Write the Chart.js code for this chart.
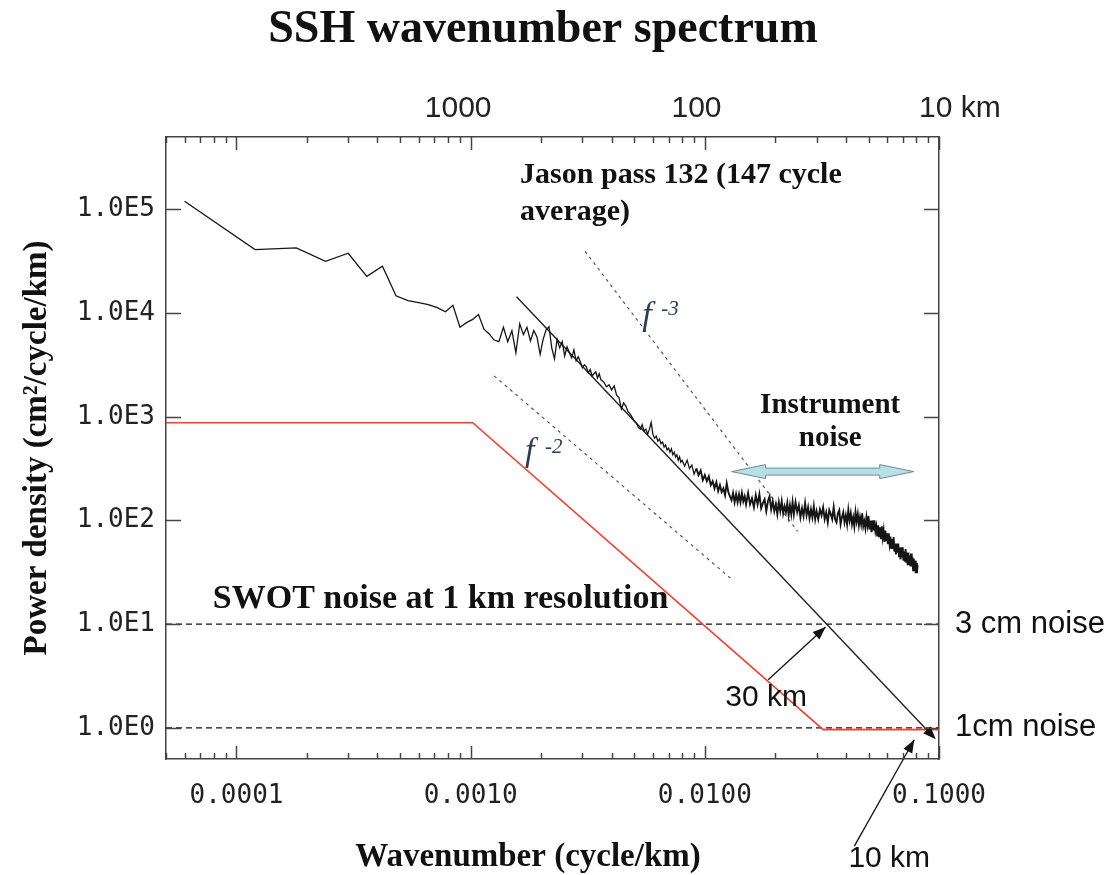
<!DOCTYPE html>
<html>
<head>
<meta charset="utf-8">
<title>SSH wavenumber spectrum</title>
<script src="https://cdn.jsdelivr.net/npm/chart.js@4.4.1/dist/chart.umd.min.js"></script>
<style>
  html, body { margin: 0; padding: 0; background: #fff; }
  #wrap { width: 1114px; height: 875px; }
</style>
</head>
<body>
<div id="wrap"><canvas id="chart" width="1114" height="875"></canvas></div>
<script>
// wavenumber (cycle/km) of the Jason pass 132 spectrum
const specK = [
  0.00006, 0.00012, 0.00018, 0.00024, 0.00030, 0.00036, 0.00042, 0.00048, 0.00054, 0.00060,
  0.00066, 0.00072, 0.00078, 0.00084, 0.00090, 0.00096, 0.00102, 0.00108, 0.00114, 0.00120,
  0.00126, 0.00132, 0.00138, 0.00144, 0.00150, 0.00156, 0.00162, 0.00168, 0.00174, 0.00180,
  0.00186, 0.00192, 0.00198, 0.00204, 0.00210, 0.00216, 0.00222, 0.00228, 0.00234, 0.00240,
  0.00246, 0.00252, 0.00258, 0.00264, 0.00270, 0.00276, 0.00282, 0.00288, 0.00294, 0.00300,
  0.00306, 0.00312, 0.00318, 0.00324, 0.00330, 0.00336, 0.00342, 0.00348, 0.00354, 0.00360,
  0.0037, 0.0038, 0.0039, 0.0040, 0.0041, 0.0042, 0.0043, 0.0044, 0.0045, 0.0046,
  0.0047, 0.0048, 0.0049, 0.0050, 0.0051, 0.0052, 0.0053, 0.0054, 0.0055, 0.0056,
  0.0057, 0.0058, 0.0059, 0.0060, 0.0061, 0.0062, 0.0063, 0.0064, 0.0065, 0.0066,
  0.0067, 0.0068, 0.0069, 0.0070, 0.0071, 0.0072, 0.0073, 0.0074, 0.0075, 0.0076,
  0.0077, 0.0078, 0.0079, 0.0080,
  0.0082, 0.0084, 0.0086, 0.0088, 0.0090, 0.0092, 0.0094, 0.0096, 0.0098, 0.0100,
  0.0102, 0.0104, 0.0106, 0.0108, 0.0110, 0.0112, 0.0114, 0.0116, 0.0118, 0.0120,
  0.0122, 0.0124, 0.0126, 0.0128, 0.0130, 0.0132, 0.0134, 0.0136, 0.0138, 0.0140,
  0.0142, 0.0144, 0.0146, 0.0148, 0.0150,
  0.0153, 0.0156, 0.0159, 0.0162, 0.0165, 0.0168, 0.0171, 0.0174, 0.0177, 0.0180,
  0.0183, 0.0186, 0.0189, 0.0192, 0.0195, 0.0198, 0.0201, 0.0204, 0.0207, 0.0210,
  0.0213, 0.0216, 0.0219, 0.0222, 0.0225, 0.0228, 0.0231, 0.0234, 0.0237,
  0.0240, 0.0244, 0.0248, 0.0252, 0.0256, 0.0260, 0.0264, 0.0268, 0.0272, 0.0276,
  0.0280, 0.0284, 0.0288, 0.0292, 0.0296, 0.0300,
  0.0305, 0.0310, 0.0315, 0.0320, 0.0325, 0.0330, 0.0335, 0.0340, 0.0345, 0.0350,
  0.0355, 0.0360, 0.0365, 0.0370, 0.0375, 0.0380, 0.0385, 0.0390, 0.0395, 0.0400,
  0.0405, 0.0410, 0.0415, 0.0420, 0.0425, 0.0430, 0.0435, 0.0440, 0.0445, 0.0450,
  0.0455, 0.0460, 0.0465, 0.0470, 0.0475, 0.0480, 0.0485, 0.0490, 0.0495, 0.0500,
  0.0505, 0.0510, 0.0515, 0.0520, 0.0525, 0.0530, 0.0535, 0.0540, 0.0545, 0.0550,
  0.0555, 0.0560, 0.0565, 0.0570, 0.0575, 0.0580, 0.0585, 0.0590, 0.0595, 0.0600,
  0.0605, 0.0610, 0.0615, 0.0620, 0.0625, 0.0630, 0.0635, 0.0640, 0.0645, 0.0650,
  0.0655, 0.0660, 0.0665, 0.0670, 0.0675, 0.0680, 0.0685, 0.0690, 0.0695, 0.0700,
  0.0705, 0.0710, 0.0715, 0.0720, 0.0725, 0.0730, 0.0735, 0.0740, 0.0745, 0.0750,
  0.0755, 0.0760, 0.0765, 0.0770, 0.0775, 0.0780, 0.0785, 0.0790, 0.0795, 0.0800,
  0.0805, 0.0810
];
// power density (cm2/cycle/km)
const specP = [
  120000, 41000, 42600, 31600, 37800, 22600, 28300, 14700, 13200, 12600,
  12100, 11300, 10300, 11900, 7300, 8100, 8700, 9700, 7000, 6300,
  5500, 5300, 7300, 5300, 6760, 4150, 7900, 6200, 7300, 5400,
  6800, 5900, 4000, 5600, 6900, 7400, 4620, 3620, 5600, 4620,
  5300, 3870, 4740, 4150, 3700, 4430, 3465, 3800, 3400, 2970,
  3180, 3040, 2650, 2860, 2480, 2600, 2720, 2370, 2600, 2270,
  2170, 1950, 2040, 1820, 1990, 1620, 1530, 1190, 1360, 1270,
  1120, 1060, 980, 910, 870, 790, 760, 840, 730, 760,
  680, 760, 880, 680, 620, 650, 583, 610, 550, 570,
  510, 535, 480, 500, 455, 490, 430, 455, 410, 430,
  380, 410, 365, 380,
  334, 382, 318, 343, 280, 318, 274, 304, 245, 274,
  239, 267, 219, 239, 204, 234, 192, 219, 188, 204,
  175, 228, 188, 171, 157, 184, 150, 179, 150, 179,
  150, 184, 153, 171, 143,
  184, 143, 164, 134, 175, 143, 179, 131, 147, 160,
  123, 153, 171, 128, 153, 123, 143, 115, 150, 123,
  153, 117, 137, 120, 147, 112, 140, 115, 150,
  115, 150, 120, 140, 107, 131, 110, 147, 112, 134,
  105, 128, 107, 137, 103, 123,
  103, 128, 112, 134, 103, 120, 96, 126, 115, 103,
  134, 103, 96, 117, 126, 92, 107, 120, 96, 112,
  92, 126, 100, 117, 92, 107, 88, 120, 98, 115,
  90, 107, 92, 117, 88, 98, 84, 107, 90, 110,
  82, 100, 77, 100, 80, 100, 79, 88, 70, 90,
  69, 86, 66, 88, 69, 80, 62, 80, 63, 75,
  59, 75, 60, 70, 53, 66, 53, 69, 50, 60,
  47, 60, 49, 60, 45, 55, 42, 55, 44, 55,
  41, 50, 40, 53, 40, 49, 37, 49, 38, 46,
  36, 48, 36, 44, 33, 43, 34, 41, 31, 39,
  31, 37
];

// straight reference lines
const fitK = [0.00157, 0.095];
const fitP = [14400, 0.81];
const slope3K = [0.00308, 0.0249];
const slope3P = [39500, 78.6];
const slope2K = [0.00126, 0.0129];
const slope2P = [2480, 27.6];
const swotK = [0.00005, 0.00102, 0.032, 0.1];
const swotP = [877, 877, 0.96, 0.96];
const noiseK = [0.00005, 0.1];
const noise3cmP = [10, 10];
const noise1cmP = [1, 1];

// axes
const X_MIN = 0.00005, X_MAX = 0.1, Y_MIN = 0.5, Y_MAX = 500000;
const xMajor = [0.0001, 0.001, 0.01, 0.1];
const xTickLabels = ['0.0001', '0.0010', '0.0100', '0.1000'];
const topMajor = [0.001, 0.01, 0.1];
const topTickLabels = ['1000', '100', '10 km'];
const yMajor = [1, 10, 100, 1000, 10000, 100000];
const yTickLabels = ['1.0E0', '1.0E1', '1.0E2', '1.0E3', '1.0E4', '1.0E5'];
const rightMajor = [10, 1];
const rightTickLabels = ['3 cm noise', '1cm noise'];

const SERIF = '"Liberation Serif", "Times New Roman", serif';
const SANS = '"Liberation Sans", Arial, sans-serif';
const MONO = '"DejaVu Sans Mono", "Liberation Mono", monospace';

function pts(xs, ys) {
  return xs.map((x, i) => ({ x: x, y: ys[i] }));
}

function logTicks(min, max, decadesOnly) {
  const out = [];
  for (let e = Math.floor(Math.log10(min)); e <= Math.ceil(Math.log10(max)); e++) {
    for (let m = 1; m <= 9; m++) {
      if (decadesOnly && m > 1) break;
      const v = m * Math.pow(10, e);
      if (v >= min * 0.999 && v <= max * 1.001) out.push({ value: v, major: m === 1 });
    }
  }
  return out;
}

function labelFor(v, values, labels) {
  for (let i = 0; i < values.length; i++) {
    if (Math.abs(Math.log10(v) - Math.log10(values[i])) < 1e-6) return labels[i];
  }
  return '';
}

// nudge the top labels like in the original figure
const topPadLeft = ['', '', '     '];
const topPadRight = ['   ', '  ', ''];

function arrowHead(ctx, x1, y1, x2, y2, len, half) {
  const a = Math.atan2(y2 - y1, x2 - x1);
  ctx.beginPath();
  ctx.moveTo(x2, y2);
  ctx.lineTo(x2 - len * Math.cos(a) + half * Math.sin(a), y2 - len * Math.sin(a) - half * Math.cos(a));
  ctx.lineTo(x2 - len * Math.cos(a) - half * Math.sin(a), y2 - len * Math.sin(a) + half * Math.cos(a));
  ctx.closePath();
  ctx.fill();
}

function arrow(ctx, x1, y1, x2, y2) {
  ctx.beginPath();
  ctx.moveTo(x1, y1);
  ctx.lineTo(x2, y2);
  ctx.stroke();
  arrowHead(ctx, x1, y1, x2, y2, 13, 5);
}

const annotate = {
  id: 'annotate',
  afterDatasetsDraw(chart) {
    const ctx = chart.ctx;
    const sx = chart.scales.x, sy = chart.scales.y;
    const X = k => sx.getPixelForValue(k);
    const Y = p => sy.getPixelForValue(p);
    ctx.save();

    // Instrument noise double arrow
    const x1 = X(0.013), x2 = X(0.078), yc = Y(296);
    const sh = 3.5, hl = 34, hh = 7;
    ctx.beginPath();
    ctx.moveTo(x1, yc);
    ctx.lineTo(x1 + hl, yc - hh);
    ctx.lineTo(x1 + hl, yc - sh);
    ctx.lineTo(x2 - hl, yc - sh);
    ctx.lineTo(x2 - hl, yc - hh);
    ctx.lineTo(x2, yc);
    ctx.lineTo(x2 - hl, yc + hh);
    ctx.lineTo(x2 - hl, yc + sh);
    ctx.lineTo(x1 + hl, yc + sh);
    ctx.lineTo(x1 + hl, yc + hh);
    ctx.closePath();
    ctx.fillStyle = '#b8dfe6';
    ctx.fill();
    ctx.strokeStyle = '#6d8c93';
    ctx.lineWidth = 1;
    ctx.stroke();

    // arrows
    ctx.strokeStyle = '#111';
    ctx.fillStyle = '#111';
    ctx.lineWidth = 1.3;
    arrow(ctx, X(0.01864), Y(2.91), X(0.0328), Y(9.4));
    arrow(ctx, X(0.0435), Y(0.0722), X(0.0784), Y(0.766));
    arrowHead(ctx, X(fitK[0]), Y(fitP[0]), X(fitK[1]) + 2, Y(fitP[1]) + 2, 13, 5);

    // bold serif notes
    ctx.fillStyle = '#111';
    ctx.textBaseline = 'alphabetic';
    ctx.textAlign = 'left';
    ctx.font = 'bold 30px ' + SERIF;
    const jx = X(0.001626), jy = Y(178000);
    ctx.fillText('Jason pass 132 (147 cycle', jx, jy);
    ctx.fillText('average)', jx, jy + 37);

    ctx.textAlign = 'center';
    ctx.font = 'bold 29px ' + SERIF;
    const ix = X(0.0343), iy = Y(1088);
    ctx.fillText('Instrument', ix, iy);
    ctx.fillText('noise', ix, iy + 33);

    ctx.textAlign = 'left';
    ctx.font = 'bold 34px ' + SERIF;
    ctx.fillText('SWOT noise at 1 km resolution', X(0.0000792), Y(14.2));

    // slope labels
    ctx.fillStyle = '#2c3b58';
    ctx.font = 'italic 34px ' + SERIF;
    ctx.fillText('f', X(0.0054), Y(7640));
    ctx.fillText('f', X(0.001706), Y(374));
    ctx.font = 'italic 21px ' + SERIF;
    ctx.fillText('-3', X(0.0054) + 19, Y(7640) - 10);
    ctx.fillText('-2', X(0.001706) + 20, Y(374) - 8);

    // km notes
    ctx.fillStyle = '#111';
    ctx.textAlign = 'center';
    ctx.textBaseline = 'middle';
    ctx.font = '30px ' + SANS;
    ctx.fillText('30 km', X(0.01828), Y(1.95));
    ctx.fillText('10 km', X(0.0613), Y(0.054));

    ctx.restore();
  },
  afterDraw(chart) {
    const ctx = chart.ctx;
    const a = chart.chartArea;
    ctx.save();
    ctx.strokeStyle = '#444';
    ctx.lineWidth = 1.5;
    // inward tick marks
    ['x', 'x2'].forEach(id => {
      const s = chart.scales[id];
      const y0 = id === 'x' ? a.bottom : a.top;
      const dir = id === 'x' ? -1 : 1;
      s.ticks.forEach(t => {
        const p = Math.round(s.getPixelForValue(t.value)) + 0.5;
        ctx.beginPath();
        ctx.moveTo(p, y0);
        ctx.lineTo(p, y0 + dir * (t.major ? 13 : 6));
        ctx.stroke();
      });
    });
    ['y', 'y2'].forEach(id => {
      const s = chart.scales[id];
      const x0 = id === 'y' ? a.left : a.right;
      const dir = id === 'y' ? 1 : -1;
      s.ticks.forEach(t => {
        const p = Math.round(s.getPixelForValue(t.value)) + 0.5;
        ctx.beginPath();
        ctx.moveTo(x0, p);
        ctx.lineTo(x0 + dir * 15, p);
        ctx.stroke();
      });
    });

    // titles
    ctx.fillStyle = '#111';
    ctx.textAlign = 'center';
    ctx.textBaseline = 'alphabetic';
    ctx.font = 'bold 46px ' + SERIF;
    ctx.fillText('SSH wavenumber spectrum', 543, 42);
    ctx.font = 'bold 33px ' + SERIF;
    ctx.fillText('Wavenumber (cycle/km)', 528, 866);
    ctx.restore();
  }
};

const gridOff = { display: true, drawOnChartArea: false, drawTicks: false };
const frame = { display: true, color: '#444', width: 1.5 };

new Chart(document.getElementById('chart'), {
  type: 'line',
  data: {
    datasets: [
      {
        label: 'Jason pass 132', data: pts(specK, specP), borderColor: '#151515', borderWidth: 1.3,
        // the dense high-wavenumber part prints as a heavier band
        segment: { borderWidth: c => (c.p0.parsed.x > 0.009 ? 1.9 : 1.3) }
      },
      { label: 'fit', data: pts(fitK, fitP), borderColor: '#222', borderWidth: 1.4 },
      { label: 'f-3', data: pts(slope3K, slope3P), borderColor: '#555', borderWidth: 1.2, borderDash: [3, 4] },
      { label: 'f-2', data: pts(slope2K, slope2P), borderColor: '#555', borderWidth: 1.2, borderDash: [3, 4] },
      { label: 'SWOT noise', data: pts(swotK, swotP), borderColor: '#ff3b2a', borderWidth: 1.6 },
      { label: '3 cm noise', data: pts(noiseK, noise3cmP), borderColor: '#111', borderWidth: 1.3, borderDash: [6, 4] },
      { label: '1 cm noise', data: pts(noiseK, noise1cmP), borderColor: '#111', borderWidth: 1.3, borderDash: [6, 4] }
    ]
  },
  options: {
    responsive: false,
    animation: false,
    parsing: false,
    layout: { padding: 0 },
    elements: { point: { radius: 0 }, line: { tension: 0 } },
    plugins: { legend: { display: false }, tooltip: { enabled: false }, title: { display: false } },
    scales: {
      x: {
        type: 'logarithmic', position: 'bottom', min: X_MIN, max: X_MAX,
        afterBuildTicks: s => { s.ticks = logTicks(X_MIN, X_MAX, false); },
        afterFit: s => { s.height = 116; },
        grid: gridOff, border: frame,
        ticks: {
          autoSkip: false, maxRotation: 0, minRotation: 0, padding: 22, color: '#222',
          font: { family: MONO, size: 26 },
          callback: v => labelFor(v, xMajor, xTickLabels)
        }
      },
      x2: {
        type: 'logarithmic', position: 'top', min: X_MIN, max: X_MAX,
        afterBuildTicks: s => { s.ticks = logTicks(X_MIN, X_MAX, false); },
        afterFit: s => { s.height = 137; },
        grid: gridOff, border: frame,
        ticks: {
          autoSkip: false, maxRotation: 0, minRotation: 0, padding: 10, color: '#222',
          font: { family: SANS, size: 30 },
          callback: v => {
            const i = topMajor.findIndex(m => Math.abs(Math.log10(v) - Math.log10(m)) < 1e-6);
            return i < 0 ? '' : topPadLeft[i] + topTickLabels[i] + topPadRight[i];
          }
        }
      },
      y: {
        type: 'logarithmic', position: 'left', min: Y_MIN, max: Y_MAX,
        afterBuildTicks: s => { s.ticks = logTicks(Y_MIN, Y_MAX, true); },
        afterFit: s => { s.width = 166; },
        grid: gridOff, border: frame,
        title: {
          display: true, text: 'Power density (cm²/cycle/km)', color: '#111',
          font: { family: SERIF, size: 33, weight: 'bold' }, padding: { top: 18, bottom: 0 }
        },
        ticks: {
          autoSkip: false, padding: 11, color: '#222',
          font: { family: MONO, size: 26 },
          callback: v => labelFor(v, yMajor, yTickLabels)
        }
      },
      y2: {
        type: 'logarithmic', position: 'right', min: Y_MIN, max: Y_MAX,
        afterBuildTicks: s => { s.ticks = logTicks(Y_MIN, Y_MAX, true); },
        afterFit: s => { s.width = 175; },
        grid: gridOff, border: frame,
        ticks: {
          autoSkip: false, padding: 16, color: '#111',
          font: { family: SANS, size: 31 },
          callback: v => labelFor(v, rightMajor, rightTickLabels)
        }
      }
    }
  },
  plugins: [annotate]
});
</script>
</body>
</html>
